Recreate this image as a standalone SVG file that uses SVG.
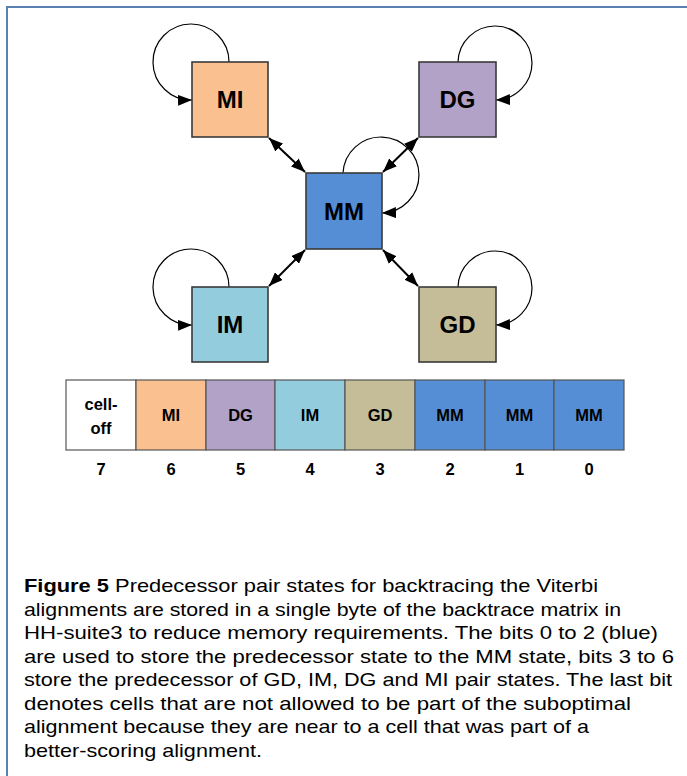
<svg xmlns="http://www.w3.org/2000/svg" width="687" height="776" viewBox="0 0 687 776">
<defs>
<style>
.box{stroke:#3a3a3a;stroke-width:1.6}
.lbl{font-family:"Liberation Sans",Arial,sans-serif;font-weight:bold;font-size:24px;text-anchor:middle;fill:#000}
.cell{stroke:#555;stroke-width:1.2}
.clbl{font-family:"Liberation Sans",Arial,sans-serif;font-weight:bold;font-size:16.5px;text-anchor:middle;fill:#000}
.num{font-family:"Liberation Sans",Arial,sans-serif;font-weight:bold;font-size:16.5px;text-anchor:middle;fill:#000}
.loop{fill:none;stroke:#000;stroke-width:1.2;marker-end:url(#ah)}
.dbl{fill:none;stroke:#000;stroke-width:2;marker-start:url(#ah2);marker-end:url(#ah2)}
.cap{font-family:"Liberation Sans",Arial,sans-serif;font-size:19px;fill:#000}
</style>
<marker id="ah" viewBox="0 0 14 11" refX="14" refY="5.5" markerWidth="14" markerHeight="11" markerUnits="userSpaceOnUse" orient="auto"><path d="M0,0 L14,5.5 L0,11 z" fill="#000"/></marker>
<marker id="ah2" viewBox="0 0 14 11" refX="14" refY="5.5" markerWidth="14" markerHeight="11" markerUnits="userSpaceOnUse" orient="auto-start-reverse"><path d="M0,0 L14,5.5 L0,11 z" fill="#000"/></marker>
</defs>
<rect width="687" height="776" fill="#fff"/>
<path d="M7,776 V7 H687" fill="none" stroke="#5b80b4" stroke-width="2"/>

<g id="connectors">
<path class="loop" d="M229,62 A38,38 0 1 0 192,100"/>
<path class="loop" d="M458,62 A37,37 0 1 1 496,100"/>
<path class="loop" d="M343,173 A38,38 0 1 1 382,213"/>
<path class="loop" d="M229,287 A38,38 0 1 0 192,325"/>
<path class="loop" d="M458,287 A37,37 0 1 1 496,325"/>
<path class="dbl" d="M269,138 L305,172"/>
<path class="dbl" d="M418,138 L383,172"/>
<path class="dbl" d="M269,286 L305,250"/>
<path class="dbl" d="M418,286 L383,250"/>
</g>

<g id="MI"><rect class="box" x="192" y="62" width="76" height="75" fill="#fac090"/><text class="lbl" x="230" y="108">MI</text></g>
<g id="DG"><rect class="box" x="419" y="62" width="77" height="75" fill="#b3a2c7"/><text class="lbl" x="457.5" y="108">DG</text></g>
<g id="MM"><rect class="box" x="306" y="173" width="76" height="76" fill="#558ed5"/><text class="lbl" x="344" y="220">MM</text></g>
<g id="IM"><rect class="box" x="192" y="287" width="76" height="75" fill="#93cddd"/><text class="lbl" x="230" y="333">IM</text></g>
<g id="GD"><rect class="box" x="419" y="287" width="77" height="75" fill="#c4bd97"/><text class="lbl" x="457.5" y="333">GD</text></g>

<g id="byte">
<rect class="cell" x="66" y="380" width="70" height="70" fill="#fff"/>
<rect class="cell" x="136" y="380" width="70" height="70" fill="#fac090"/>
<rect class="cell" x="206" y="380" width="69" height="70" fill="#b3a2c7"/>
<rect class="cell" x="275" y="380" width="70" height="70" fill="#93cddd"/>
<rect class="cell" x="345" y="380" width="70" height="70" fill="#c4bd97"/>
<rect class="cell" x="415" y="380" width="70" height="70" fill="#558ed5"/>
<rect class="cell" x="485" y="380" width="69" height="70" fill="#558ed5"/>
<rect class="cell" x="554" y="380" width="70" height="70" fill="#558ed5"/>
<text class="clbl" x="101" y="410">cell-</text>
<text class="clbl" x="101" y="434">off</text>
<text class="clbl" x="171" y="421">MI</text>
<text class="clbl" x="240.5" y="421">DG</text>
<text class="clbl" x="310" y="421">IM</text>
<text class="clbl" x="380" y="421">GD</text>
<text class="clbl" x="450" y="421">MM</text>
<text class="clbl" x="519.5" y="421">MM</text>
<text class="clbl" x="589" y="421">MM</text>
<text class="num" x="101" y="475">7</text>
<text class="num" x="171" y="475">6</text>
<text class="num" x="240.5" y="475">5</text>
<text class="num" x="310" y="475">4</text>
<text class="num" x="380" y="475">3</text>
<text class="num" x="450" y="475">2</text>
<text class="num" x="519.5" y="475">1</text>
<text class="num" x="589" y="475">0</text>
</g>

<g id="caption">
<text class="cap" x="24" y="592" textLength="574" lengthAdjust="spacingAndGlyphs"><tspan font-weight="bold">Figure 5</tspan>  Predecessor pair states for backtracing the Viterbi</text>
<text class="cap" x="24" y="615.5" textLength="597" lengthAdjust="spacingAndGlyphs">alignments are stored in a single byte of the backtrace matrix in</text>
<text class="cap" x="24" y="639" textLength="634" lengthAdjust="spacingAndGlyphs">HH-suite3 to reduce memory requirements. The bits 0 to 2 (blue)</text>
<text class="cap" x="24" y="662.5" textLength="650" lengthAdjust="spacingAndGlyphs">are used to store the predecessor state to the MM state, bits 3 to 6</text>
<text class="cap" x="24" y="686" textLength="648" lengthAdjust="spacingAndGlyphs">store the predecessor of GD, IM, DG and MI pair states. The last bit</text>
<text class="cap" x="24" y="709.5" textLength="607" lengthAdjust="spacingAndGlyphs">denotes cells that are not allowed to be part of the suboptimal</text>
<text class="cap" x="24" y="733" textLength="565" lengthAdjust="spacingAndGlyphs">alignment because they are near to a cell that was part of a</text>
<text class="cap" x="24" y="756.5" textLength="238" lengthAdjust="spacingAndGlyphs">better-scoring alignment.</text>
</g>
</svg>
